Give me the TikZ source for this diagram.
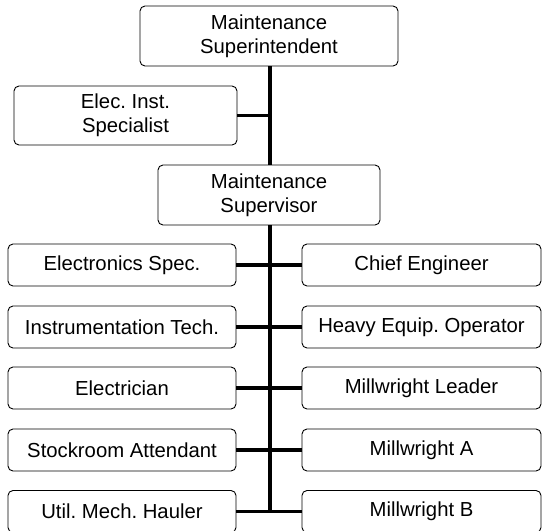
\documentclass[tikz,border=0pt]{standalone}
\usepackage{fontspec}
\setmainfont{Liberation Sans}
\frenchspacing
\begin{document}
\begin{tikzpicture}[x=1pt, y=-1pt,
	post/.style={draw, rounded corners=5pt, line width=0.9pt, align=center, inner sep=0pt, font=\fontsize{20.3}{24}\selectfont},
	wide post/.style={post, minimum height=60pt},
	left post/.style={post, minimum width=228pt, minimum height=42pt},
	right post/.style={post, minimum width=239pt, minimum height=42pt},
	link/.style={line width=3.5pt}]
	\useasboundingbox (0, 0) rectangle (542, 531);
	% Boxes:
	\node[wide post, minimum width=258pt](supt) at (269, 36){Maintenance\\Superintendent};
	\node[wide post, minimum width=223pt, minimum height=59pt](eis) at (125.5, 115.5){Elec. Inst.\\Specialist};
	\node[wide post, minimum width=222pt](supv) at (269, 195){Maintenance\\Supervisor};
	\node[left post](elecspec) at (122, 265){Electronics Spec.};
	\node[left post](instr) at (122, 327){Instrumentation Tech.};
	\node[left post](elect) at (122, 388){Electrician};
	\node[left post](stock) at (122, 450){Stockroom Attendant};
	\node[left post](hauler) at (122, 511.5){Util. Mech. Hauler};
	\node[right post](chief) at (421.5, 265){Chief Engineer};
	\node[right post](heavy) at (421.5, 327){Heavy Equip. Operator};
	\node[right post](mwlead) at (421.5, 388){Millwright Leader};
	\node[right post](mwa) at (421.5, 450){Millwright A};
	\node[right post](mwb) at (421.5, 511.5){Millwright B};
	% Wires:
	\draw[link] (270, 0 |- supt.south) -- (270, 0 |- supv.north);
	\draw[link] (eis.east) -- (270, 0 |- eis.east);
	\draw[link] (270, 0 |- supv.south) -- (270, 0 |- hauler.east);
	\draw[link] (elecspec.east) -- (chief.west);
	\draw[link] (instr.east) -- (heavy.west);
	\draw[link] (elect.east) -- (mwlead.west);
	\draw[link] (stock.east) -- (mwa.west);
	\draw[link] (hauler.east) -- (mwb.west);
\end{tikzpicture}
\end{document}
